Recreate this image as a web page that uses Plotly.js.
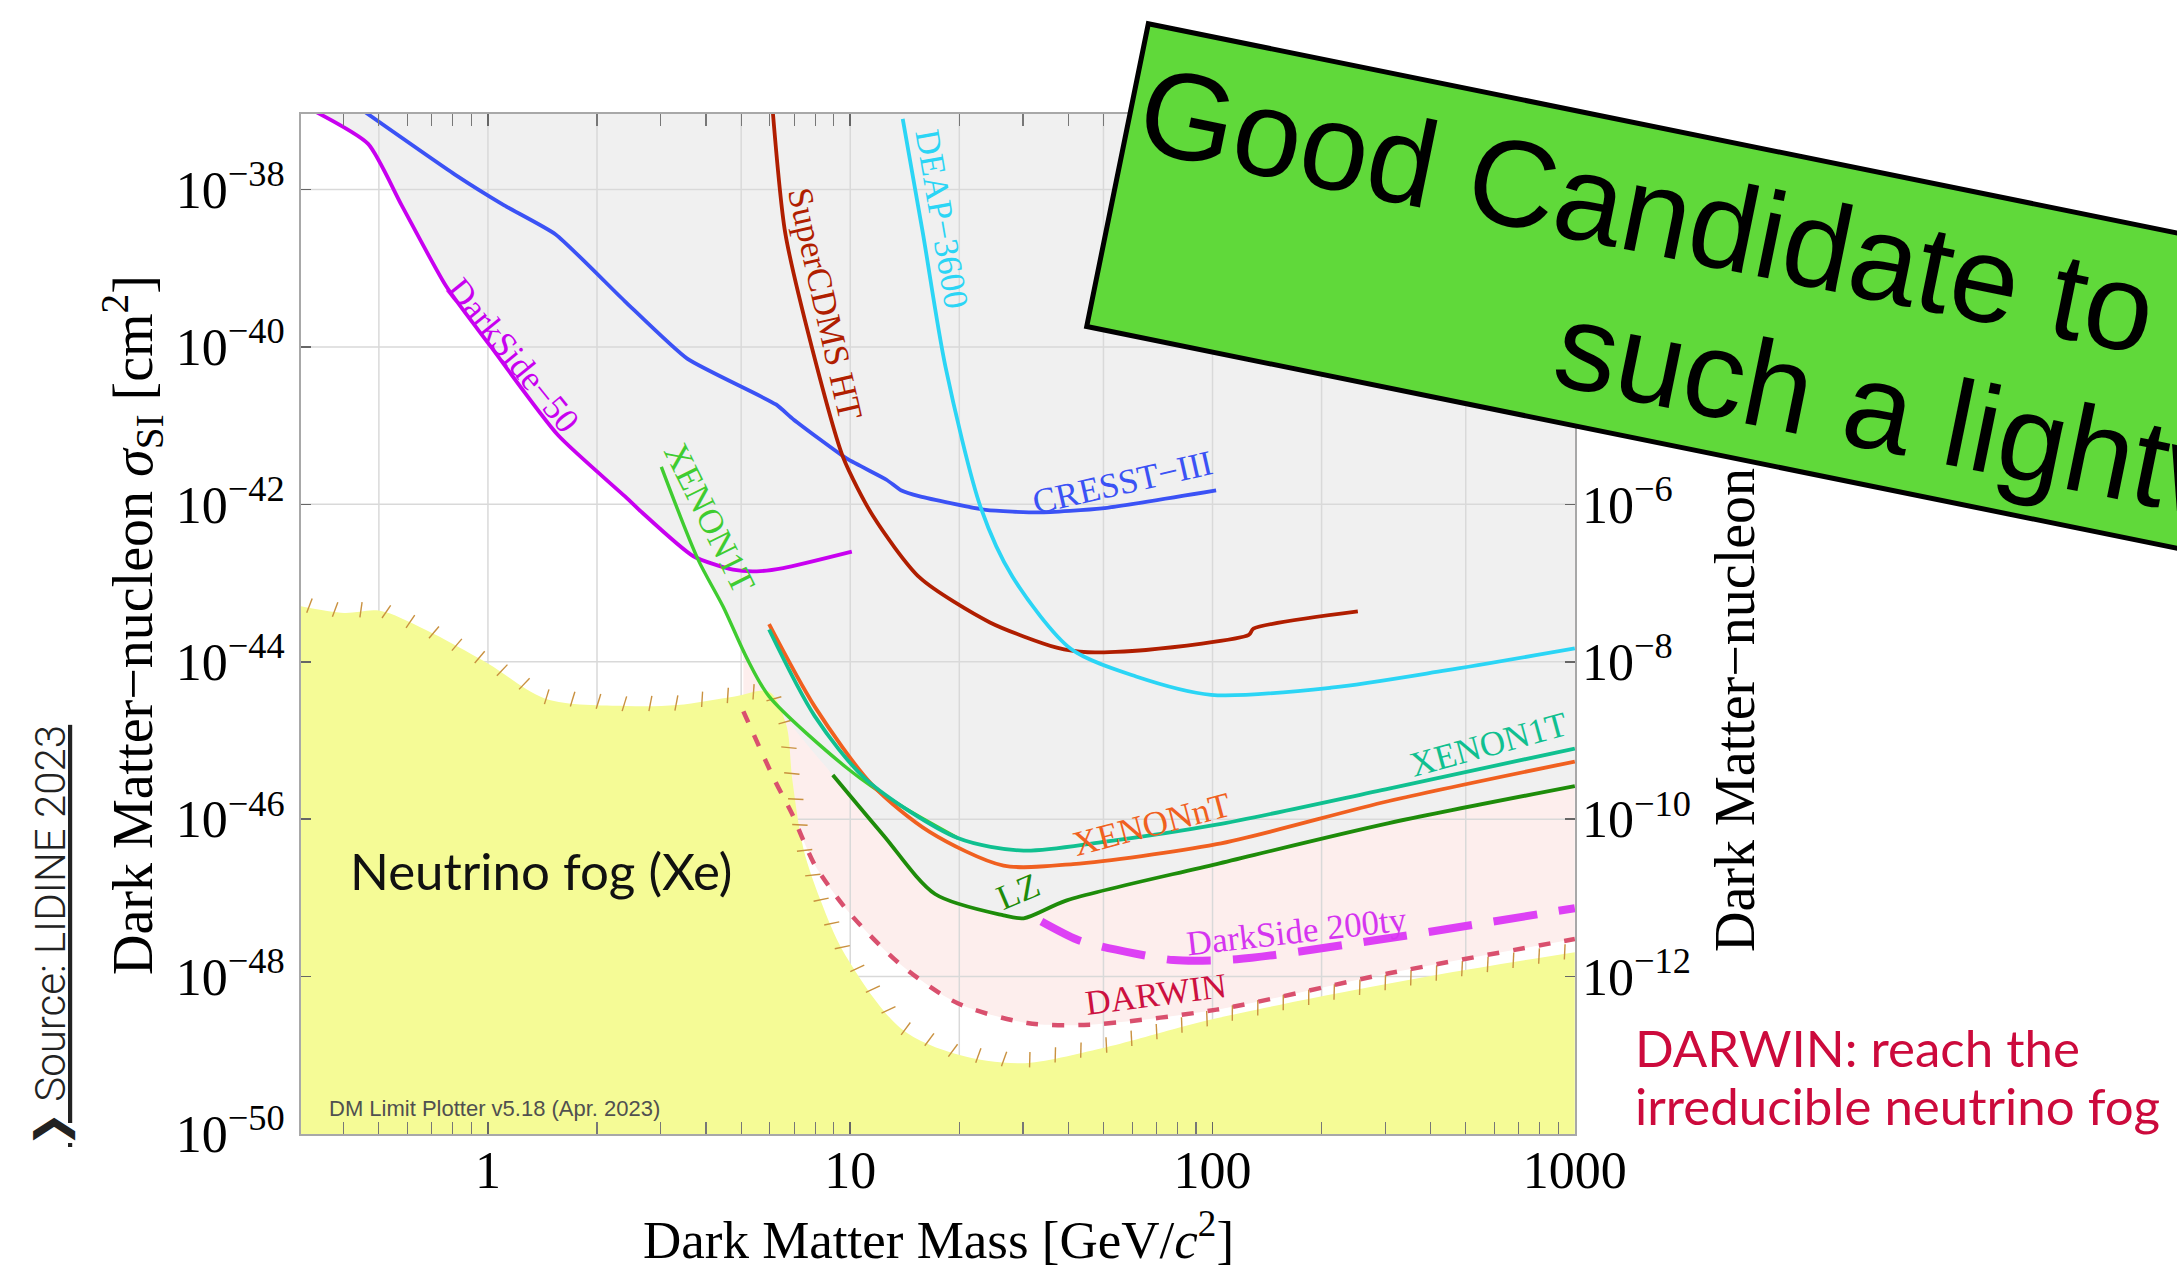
<!DOCTYPE html>
<html><head><meta charset="utf-8">
<script src="https://cdn.plot.ly/plotly-3.0.1.min.js"></script>
<style>html,body{margin:0;padding:0;background:#fff;}#chart{width:2177px;height:1273px;}</style>
</head><body><div id="chart"></div>
<script>
// ---------------- data (mass in GeV/c^2, cross-section in cm^2) ----------------
const ds50_x = [0.331, 0.467, 0.578, 0.767, 1.02, 1.56, 2.39, 2.63, 3.69, 4.75, 5.52, 6.53, 10.1];
const ds50_y = [1.0e-37, 3.8e-38, 6.3e-39, 5.9e-40, 1.0e-40, 7.6e-42, 1.26e-42, 8.3e-43, 2.19e-43, 1.48e-43, 1.41e-43, 1.55e-43, 2.51e-43];

const cresst_x = [0.453, 0.811, 1.109, 1.538, 2.388, 3.548, 6.237, 6.97, 9.795, 12.62, 13.8, 15.56, 23.66, 33.19, 49.55, 102.3];
const cresst_y = [1.0e-37, 1.55e-38, 6.3e-39, 2.69e-39, 3.8e-40, 7.1e-41, 1.86e-41, 1.2e-41, 3.8e-42, 2.04e-42, 1.51e-42, 1.26e-42, 8.5e-43, 7.9e-43, 8.9e-43, 1.51e-42];

const scdms_x = [6.1, 6.61, 7.83, 9.55, 11.56, 15.56, 24.3, 37.15, 45.3, 65.5, 125.9, 129.7, 251.8];
const scdms_y = [1.1e-37, 2.88e-39, 1.0e-40, 4.0e-42, 7.1e-43, 1.17e-43, 3.16e-44, 1.51e-44, 1.32e-44, 1.41e-44, 2.19e-44, 2.63e-44, 4.37e-44];

const deap_x = [13.96, 15.85, 18.32, 22.96, 28.05, 40.7, 61.5, 99.1, 212.3, 440.6, 1000];
const deap_y = [7.9e-38, 2.88e-39, 5.6e-41, 8.9e-43, 1.2e-43, 1.45e-44, 6.5e-45, 3.8e-45, 4.68e-45, 7.76e-45, 1.48e-44];

const x1tMig_x = [3.01, 3.80, 4.46, 5.18, 5.97, 9.91, 13.8, 19.8];
const x1tMig_y = [3.0e-42, 2.0e-43, 5.0e-44, 1.12e-44, 3.63e-45, 4.27e-46, 1.48e-46, 5.75e-47];

const x1t_x = [5.97, 7.98, 11.09, 19.8, 30.1, 49.5, 102.6, 306.9, 1000];
const x1t_y = [2.57e-44, 2.04e-45, 3.16e-46, 5.75e-47, 3.98e-47, 5.1e-47, 8.5e-47, 2.45e-46, 7.9e-46];

const xnt_x = [5.97, 7.98, 11.48, 16.56, 26.5, 41.2, 102.6, 306.9, 1000];
const xnt_y = [3.0e-44, 2.69e-45, 2.75e-46, 6.9e-47, 2.57e-47, 2.69e-47, 4.8e-47, 1.7e-46, 5.4e-46];

const lz_x = [8.95, 12.36, 17.14, 26.5, 30.1, 39.6, 102.6, 306.9, 1000];
const lz_y = [3.63e-46, 6.2e-47, 1.12e-47, 6.0e-48, 5.5e-48, 9.3e-48, 2.69e-47, 8.9e-47, 2.63e-46];

const ds20k_x = [33.7, 42.2, 49.4, 61.5, 78.0, 116.7, 289.7, 1000];
const ds20k_y = [5.0e-48, 2.95e-48, 2.4e-48, 1.95e-48, 1.62e-48, 1.66e-48, 2.95e-48, 7.4e-48];

const darwin_x = [5.07, 6.18, 6.92, 7.41, 8.0, 9.93, 13.8, 19.8, 30.8, 45.8, 102.6, 306.9, 1000];
const darwin_y = [2.34e-45, 3.16e-46, 1.15e-46, 5.5e-47, 2.57e-47, 6.5e-48, 1.41e-48, 4.57e-49, 2.57e-49, 2.45e-49, 3.8e-49, 1.1e-48, 3.0e-48];

const fog_x = [0.302, 0.401, 0.5, 0.67, 1.0, 1.44, 2.4, 3.33, 4.8, 5.97, 6.65, 6.92, 7.43, 8.28, 9.59, 13.8, 19.8, 29.6, 49.5, 79.3, 102.6, 212.3, 440.6, 1000];
const fog_y = [5.1e-44, 4.17e-44, 4.47e-44, 2.57e-44, 9.5e-45, 3.4e-45, 2.75e-45, 2.82e-45, 3.63e-45, 4.17e-45, 1.62e-45, 3.16e-46, 4.17e-47, 9.3e-48, 2.04e-48, 2.19e-49, 1.02e-49, 7.9e-50, 1.23e-49, 2.19e-49, 2.95e-49, 5.9e-49, 1.1e-48, 2.04e-48];

// axis ticks
const xTickVals = [1, 10, 100, 1000];
const xTickText = ['1', '10', '100', '1000'];
const xGrid = [0.5, 1, 2, 5, 10, 20, 50, 100, 200, 500];
const yExp = [-38, -40, -42, -44, -46, -48, -50];
const yGridExp = [-38, -40, -42, -44, -46, -48];
const y2Exp = [-2, -4, -6, -8, -10, -12];
const cm2ToPbExp = 36;

// ---------------- layout geometry ----------------
const L = {W: 2177, H: 1273, ml: 301, mr: 602, mt: 114, mb: 139};
const PW = L.W - L.ml - L.mr, PH = L.H - L.mt - L.mb;
const XR = [-0.516, 3.0005], YR = [-50.0005, -37.04];
const TOP = 1e-36, BOT = 1e-52;
const SERIF = 'Liberation Serif, Times New Roman, serif';

function paper(px, py) { return [(px - L.ml) / PW, (L.H - L.mb - py) / PH]; }
function toPix(x, y) {
  return [L.ml + (Math.log10(x) - XR[0]) / (XR[1] - XR[0]) * PW,
          L.mt + (YR[1] - Math.log10(y)) / (YR[1] - YR[0]) * PH];
}
function fromPix(p) {
  return [Math.pow(10, XR[0] + (p[0] - L.ml) / PW * (XR[1] - XR[0])),
          Math.pow(10, YR[1] - (p[1] - L.mt) / PH * (YR[1] - YR[0]))];
}
const SM = 0.8;
function edge(x0, x1, y) { return {x: [x0, x1], y: [y, y], mode: 'lines', line: {width: 0}, hoverinfo: 'skip'}; }
function band(x, y, color, sm) {
  return {x: x, y: y, mode: 'lines', fill: 'tonexty', fillcolor: color,
    line: {width: 0, shape: 'spline', smoothing: sm}, hoverinfo: 'skip'};
}

const traces = [];
// pink DARWIN-reach region (from the DARWIN projection up to the top)
traces.push(edge(darwin_x[0], darwin_x[darwin_x.length - 1], TOP));
traces.push(band(darwin_x, darwin_y, '#fdeeed', SM));

// grey excluded region (envelope of the limits)
const envX = [], envY = [];
ds50_x.forEach((x, i) => { if (x < 3.75) { envX.push(x); envY.push(ds50_y[i]); } });
x1tMig_x.forEach((x, i) => { if (x >= 3.75 && x < lz_x[0]) { envX.push(x); envY.push(x1tMig_y[i]); } });
lz_x.forEach((x, i) => { envX.push(x); envY.push(lz_y[i]); });
traces.push(edge(envX[0], envX[envX.length - 1], TOP));
traces.push(band(envX, envY, '#f0f0f0', SM));

// grid lines (drawn above the grey/pink fills, below the fog)
const gx = [], gy = [];
xGrid.forEach(v => { gx.push(v, v, null); gy.push(BOT, TOP, null); });
yGridExp.forEach(e => { gx.push(0.1, 10000, null); gy.push(Math.pow(10, e), Math.pow(10, e), null); });
traces.push({x: gx, y: gy, mode: 'lines', line: {color: '#d9d9d9', width: 1.5}, hoverinfo: 'skip', connectgaps: false});

// neutrino fog
traces.push(edge(fog_x[0], fog_x[fog_x.length - 1], BOT));
traces.push(band(fog_x, fog_y, '#f5fb96', 0.9));

// hatch ticks along the fog boundary
(function () {
  const pts = fog_x.map((x, i) => toPix(x, fog_y[i]));
  const hx = [], hy = [], ha = [];
  const step = 26; let acc = 10;
  for (let i = 0; i < pts.length - 1; i++) {
    const [x0, y0] = pts[i], [x1, y1] = pts[i + 1];
    const seg = Math.hypot(x1 - x0, y1 - y0);
    const ang = Math.atan2(y1 - y0, x1 - x0) * 180 / Math.PI;
    let d = acc;
    while (d <= seg) {
      const t = d / seg, p = [x0 + (x1 - x0) * t, y0 + (y1 - y0) * t];
      if (p[0] > L.ml + 4 && p[0] < L.ml + PW - 4) {
        const v = fromPix([p[0], p[1] - 2]); hx.push(v[0]); hy.push(v[1]); ha.push(ang + 12);
      }
      d += step;
    }
    acc = d - seg;
  }
  traces.push({x: hx, y: hy, mode: 'markers', hoverinfo: 'skip',
    marker: {symbol: 'line-ns', size: 11, angle: ha, line: {width: 1.4, color: '#c9913f'}}});
})();

function curve(x, y, color, width, dash, sm) {
  return {x: x, y: y, mode: 'lines', hoverinfo: 'skip',
    line: {color: color, width: width, dash: dash || 'solid', shape: 'spline', smoothing: sm == null ? SM : sm}};
}
traces.push(curve(ds50_x, ds50_y, '#c800f0', 3.8, null, 0.6));
traces.push(curve(cresst_x, cresst_y, '#3b52f5', 3.8, null, 0.5));
traces.push(curve(scdms_x, scdms_y, '#b01e00', 3.8, null, 0.7));
traces.push(curve(deap_x, deap_y, '#2bd5f5', 3.8));
traces.push(curve(x1tMig_x, x1tMig_y, '#3fcc30', 3.4));
traces.push(curve(xnt_x, xnt_y, '#f06020', 3.8));
traces.push(curve(x1t_x, x1t_y, '#10c090', 3.8));
traces.push(curve(lz_x, lz_y, '#1e8c0a', 3.8));
traces.push(curve(ds20k_x, ds20k_y, '#dd40f5', 8, '44px,22px'));
traces.push(curve(darwin_x, darwin_y, '#d9506e', 4.5, '12px,14px'));

// ---------------- annotations ----------------
const curveLabels = [
  {t: 'DarkSide−50', x: 1.176, y: 7.9e-41, a: 51, c: '#c800f0'},
  {t: 'CRESST−III', x: 56.6, y: 1.9e-42, a: -12.8, c: '#3b52f5'},
  {t: 'SuperCDMS HT', x: 8.51, y: 3.57e-40, a: 77.3, c: '#b01e00'},
  {t: 'DEAP−3600', x: 17.91, y: 4.18e-39, a: 80.4, c: '#2bd5f5'},
  {t: 'XENON1T', x: 4.08, y: 6.8e-43, a: 63.6, c: '#3fcc30'},
  {t: 'XENON1T', x: 579, y: 8.8e-46, a: -15.3, c: '#10c090'},
  {t: 'XENONnT', x: 68.0, y: 8.5e-47, a: -14.8, c: '#f06020'},
  {t: 'LZ', x: 29.14, y: 1.19e-47, a: -23, c: '#1e8c0a'},
  {t: 'DarkSide 200ty', x: 171, y: 3.74e-48, a: -6.5, c: '#d535f0'},
  {t: 'DARWIN', x: 69.8, y: 5.85e-49, a: -7.4, c: '#cc1040'}
];
const ann = curveLabels.map(l => ({text: l.t, x: Math.log10(l.x), y: Math.log10(l.y), xref: 'x', yref: 'y',
  xanchor: 'center', yanchor: 'middle',
  showarrow: false, textangle: l.a, font: {family: SERIF, size: 35, color: l.c}}));

ann.push({text: 'Neutrino fog (Xe)', x: Math.log10(1.40), y: Math.log10(2.24e-47), xref: 'x', yref: 'y',
  xanchor: 'center', yanchor: 'middle',
  showarrow: false, font: {family: 'Lato, Noto Sans, sans-serif', size: 51, color: '#111'}});

function pAnn(o, px, py) {
  const p = paper(px, py);
  return Object.assign({x: p[0], y: p[1], xref: 'paper', yref: 'paper', showarrow: false,
    xanchor: 'center', yanchor: 'middle'}, o);
}

ann.push(pAnn({text: 'DM Limit Plotter v5.18 (Apr. 2023)', xanchor: 'left', font: {family: 'Liberation Sans, Arial, sans-serif', size: 22, color: '#505050'}}, 327, 1108));
ann.push(pAnn({text: 'Dark Matter−nucleon <i>σ</i><sub>SI</sub> [cm<sup>2</sup>]', textangle: -90, font: {family: SERIF, size: 56, color: '#000'}}, 132, 625));
ann.push(pAnn({text: 'Dark Matter Mass [GeV/<i>c</i><sup>2</sup>]', font: {family: SERIF, size: 53, color: '#000'}}, 938, 1236));
ann.push(pAnn({text: 'Dark Matter−nucleon <i>σ</i><sub>SI</sub> [pb]', textangle: -90, font: {family: SERIF, size: 56, color: '#000'}}, 1739, 618));
ann.push(pAnn({text: '❯ Source: LIDINE 2023', textangle: -90, font: {family: 'Roboto, Lato, sans-serif', weight: 300, size: 42, color: '#222', lineposition: 'under'}}, 50.5, 935.5));
ann.push(pAnn({text: 'DARWIN: reach the', xanchor: 'left', font: {family: 'Lato, Noto Sans, sans-serif', size: 51, color: '#cc0a3c'}}, 1633, 1047.5));
ann.push(pAnn({text: 'irreducible neutrino fog', xanchor: 'left', font: {family: 'Lato, Noto Sans, sans-serif', size: 51, color: '#cc0a3c'}}, 1633, 1105.5));

// green banner (drawn last, on top)
const BANNER_ANGLE = 11.5;
ann.push(pAnn({text: ' ', width: 1600, height: 304, borderpad: 0, borderwidth: 5, bgcolor: '#60d93a', bordercolor: '#000',
  textangle: BANNER_ANGLE, font: {size: 10}}, 1903.5, 334.6));
ann.push(pAnn({text: 'Good Candidate to', textangle: BANNER_ANGLE, font: {family: 'Liberation Sans, Arial, sans-serif', size: 123, color: '#000'}}, 1647.8, 210.8));
ann.push(pAnn({text: 'such a lightweight', textangle: BANNER_ANGLE, font: {family: 'Liberation Sans, Arial, sans-serif', size: 123, color: '#000'}}, 2036.9, 439.9));

const minorVals = [];
[0.1, 1, 10, 100].forEach(d => { for (let k = 2; k <= 9; k++) minorVals.push(k * d); });

const layout = {
  width: L.W, height: L.H, margin: {l: L.ml, r: L.mr, t: L.mt, b: L.mb, pad: 0},
  paper_bgcolor: '#fff', plot_bgcolor: '#fff', showlegend: false,
  font: {family: SERIF, color: '#000'},
  xaxis: {type: 'log', range: XR, showgrid: false, zeroline: false,
    tickmode: 'array', tickvals: xTickVals, ticktext: xTickText,
    ticks: 'inside', ticklen: 12, tickwidth: 1.5, tickcolor: '#666',
    showline: true, linecolor: '#a8a8a8', linewidth: 2, mirror: 'allticks',
    tickfont: {family: SERIF, size: 52, color: '#000'}, ticklabelstandoff: -10,
    minor: {tickmode: 'array', tickvals: minorVals, ticks: 'inside', ticklen: 6, tickwidth: 1.2, tickcolor: '#777', showgrid: false}},
  yaxis: {type: 'log', range: YR, showgrid: false, zeroline: false,
    tickmode: 'array', tickvals: yExp.map(e => Math.pow(10, e)), ticktext: yExp.map(e => '10<sup>−' + (-e) + '</sup>'),
    ticks: 'inside', ticklen: 10, tickwidth: 1.5, tickcolor: '#666',
    showline: true, linecolor: '#a8a8a8', linewidth: 2, mirror: 'allticks',
    tickfont: {family: SERIF, size: 52, color: '#000'}, ticklabelstandoff: 4},
  yaxis2: {type: 'log', overlaying: 'y', side: 'right', anchor: 'x',
    range: [YR[0] + cm2ToPbExp, YR[1] + cm2ToPbExp], showgrid: false, zeroline: false, showline: false,
    tickmode: 'array', tickvals: y2Exp.map(e => Math.pow(10, e)), ticktext: y2Exp.map(e => '10<sup>−' + (-e) + '</sup>'),
    ticks: '', tickfont: {family: SERIF, size: 52, color: '#000'}, ticklabelstandoff: 6},
  annotations: ann
};
// invisible point so the right-hand axis is drawn
traces.push({x: [1], y: [1e-10], yaxis: 'y2', mode: 'markers', marker: {opacity: 0}, hoverinfo: 'skip'});

Plotly.newPlot('chart', traces, layout, {displayModeBar: false, staticPlot: true});
</script>
</body></html>
